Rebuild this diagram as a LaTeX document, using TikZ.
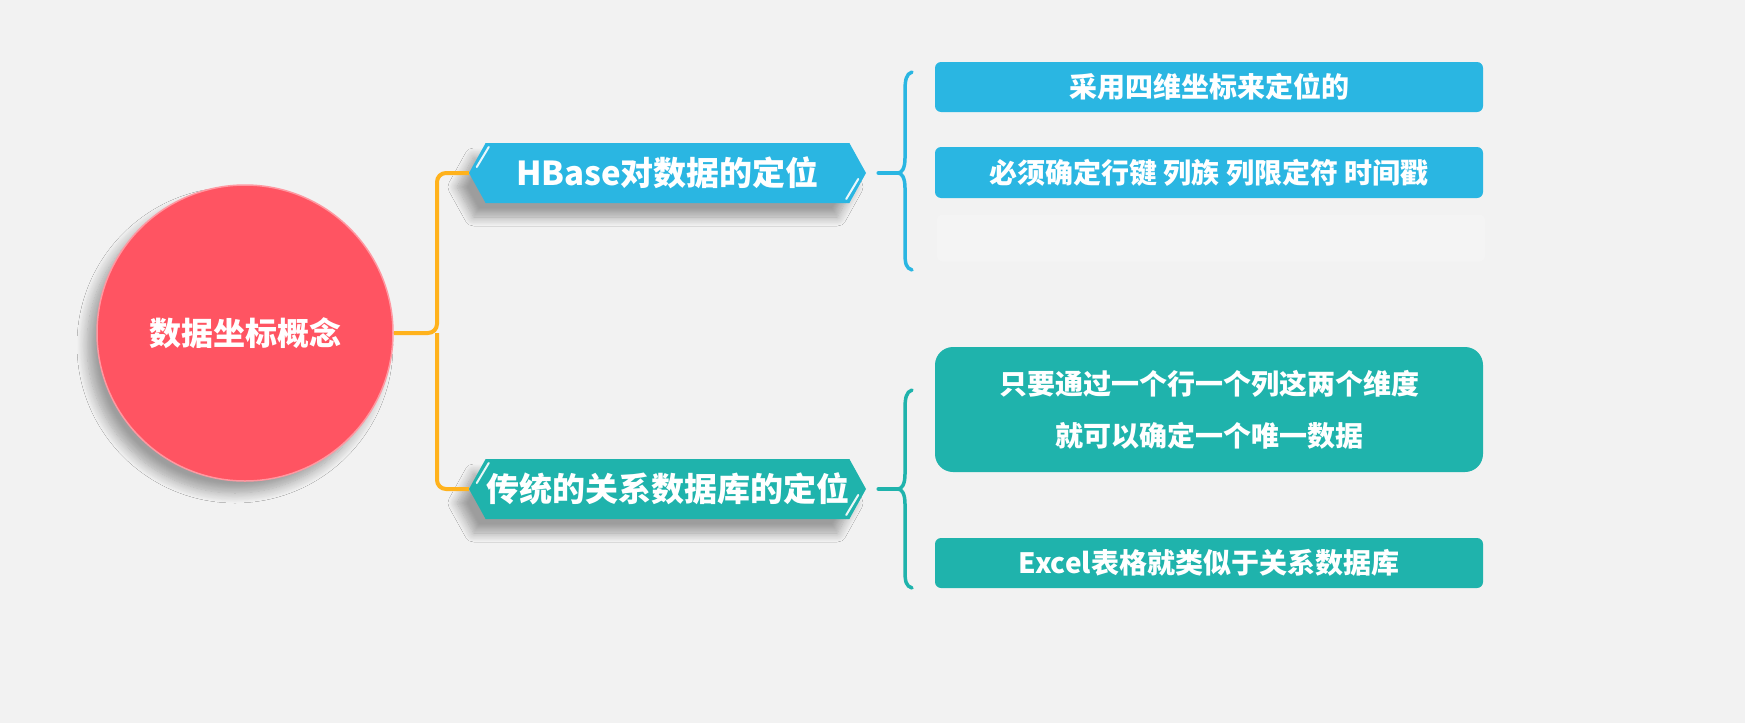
\documentclass[tikz,border=0pt]{standalone}
\usepackage{fontspec}
\setmainfont{Noto Sans CJK SC}
\usetikzlibrary{shapes.symbols,shadows.blur,calc}
\definecolor{bgc}{HTML}{F2F2F2}
\definecolor{redc}{HTML}{FF5462}
\definecolor{orangec}{HTML}{FFB21C}
\definecolor{bluec}{HTML}{2AB6E2}
\definecolor{tealc}{HTML}{1FB3AC}
\tikzset{
  hub/.style={circle, fill=redc, draw=redc!60!white, line width=1.5pt, minimum size=296pt, inner sep=0pt, text=white,
    font=\bfseries\fontsize{32}{38}\selectfont,
    blur shadow={shadow xshift=-10pt, shadow yshift=-12pt, shadow blur radius=10pt, shadow blur steps=12, shadow opacity=35}},
  branch/.style={signal, signal to=west and east, signal pointer angle=122,
    minimum width=397pt, minimum height=60pt, inner sep=0pt, text=white,
    font=\bfseries\fontsize{33}{38}\selectfont,
    blur shadow={shadow xshift=-12pt, shadow yshift=-14pt, shadow blur radius=9pt, shadow blur steps=12, shadow opacity=35}},
  leaf/.style={rectangle, rounded corners=6pt, minimum width=548pt, inner sep=0pt,
    text=white, align=center, font=\bfseries\fontsize{28}{52}\selectfont},
  trunk/.style={draw=orangec, line width=4pt, rounded corners=9pt},
  bracket/.style={line width=3.5pt, line cap=round},
  hilite/.style={draw=white, line width=2pt, line cap=round, opacity=0.9}
}
\begin{document}
\begin{tikzpicture}[x=1pt,y=-1pt]
\useasboundingbox (0,0) rectangle (1745,723);
\fill[bgc] (0,0) rectangle (1745,723);

% hub
\node[hub] (c) at (245,333) {数据坐标概念};

% branches
\node[branch, fill=bluec] (hb) at (667.5,173) {HBase对数据的定位};
\node[branch, fill=tealc] (rd) at (667.5,489) {传统的关系数据库的定位};

% highlights on branch ends
\foreach \n in {hb,rd}{
  \draw[hilite] ($(\n.west)+(8,-6)$) -- ($(\n.west)+(20,-26)$);
  \draw[hilite] ($(\n.east)+(-8,6)$) -- ($(\n.east)+(-20,26)$);
}

% trunk
\coordinate (tk) at (437,333);
\draw[trunk] (hb.west) -| (tk) -- (c.east);
\draw[trunk] (rd.west) -| (tk);

% leaves
\node[leaf, fill=bluec, minimum height=50pt] (l1) at (1209,87) {采用四维坐标来定位的};
\node[leaf, fill=bluec, minimum height=51pt] (l2) at (1209,172.5) {必须确定行键 列族 列限定符 时间戳};
\node[leaf, fill=white, opacity=0.2, minimum height=47pt] (l0) at (1211,238) {};
\node[leaf, fill=tealc, minimum height=125pt, rounded corners=18pt] (l3) at (1209,409.5) {只要通过一个行一个列这两个维度\\就可以确定一个唯一数据};
\node[leaf, fill=tealc, minimum height=50pt] (l4) at (1209,563) {Excel表格就类似于关系数据库};

% brackets
\coordinate (t1) at (898,173);
\coordinate (t2) at (898,489);
\draw[bracket, bluec] ($(hb.east)+(12,0)$) -- (t1);
\draw[bracket, bluec] (912,72) .. controls (906,74) and (905,80) .. (905,92) -- (905,158)
  .. controls (905,168) and (902,173) .. (t1)
  .. controls (902,173) and (905,178) .. (905,188) -- (905,252)
  .. controls (905,264) and (906,268) .. (912,270);
\draw[bracket, tealc] ($(rd.east)+(12,0)$) -- (t2);
\draw[bracket, tealc] (912,390) .. controls (906,392) and (905,398) .. (905,410) -- (905,474)
  .. controls (905,484) and (902,489) .. (t2)
  .. controls (902,489) and (905,494) .. (905,504) -- (905,570)
  .. controls (905,582) and (906,586) .. (912,588);
\end{tikzpicture}
\end{document}
